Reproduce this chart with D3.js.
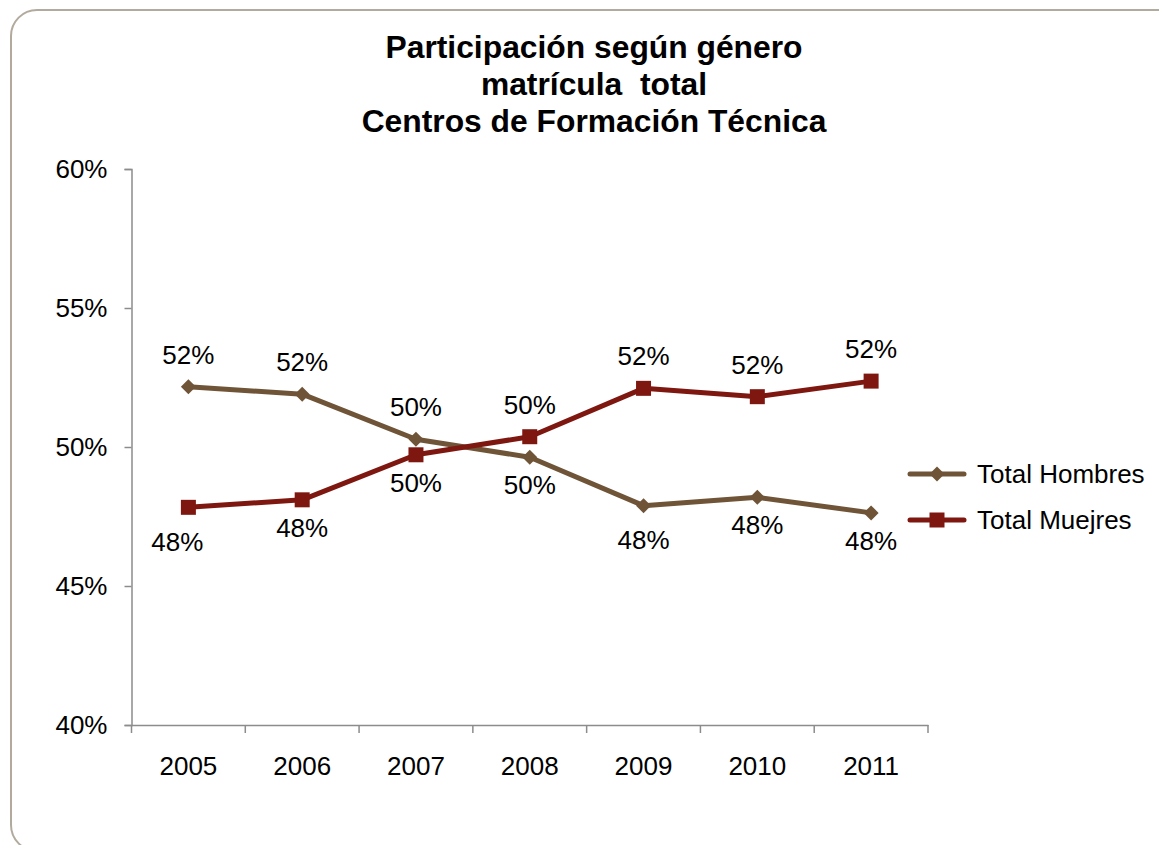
<!DOCTYPE html>
<html>
<head>
<meta charset="utf-8">
<script src="https://cdn.jsdelivr.net/npm/d3@7"></script>
<style>
  html, body { margin: 0; padding: 0; background: #fff; }
  svg { display: block; font-family: Arial, "Liberation Sans", sans-serif; }
</style>
</head>
<body>
<svg id="chart" width="1159" height="845"></svg>
<script>
const years = ["2005", "2006", "2007", "2008", "2009", "2010", "2011"];
const hombres = [52.17, 51.90, 50.28, 49.63, 47.89, 48.19, 47.63];
const mujeres = [47.83, 48.10, 49.72, 50.37, 52.11, 51.81, 52.37];
const seriesNames = ["Total Hombres", "Total Muejres"];
const yTicks = [40, 45, 50, 55, 60];
const titleLines = ["Participación según género", "matrícula  total", "Centros de Formación Técnica"];

const colors = ["#6f5437", "#7e1710"];
const svg = d3.select("#chart");
const FS = 26;

// frame
svg.append("rect")
  .attr("x", 11).attr("y", 10)
  .attr("width", 1180).attr("height", 841)
  .attr("rx", 26).attr("ry", 26)
  .attr("fill", "#fff")
  .attr("stroke", "#b3aa9e")
  .attr("stroke-width", 2);

// title
svg.append("g").selectAll("text").data(titleLines).join("text")
  .attr("x", 594)
  .attr("y", (d, i) => 58 + i * 37)
  .attr("text-anchor", "middle")
  .attr("font-size", 31.8)
  .attr("font-weight", "bold")
  .attr("fill", "#000")
  .style("white-space", "pre")
  .text(d => d);

const x = d3.scaleBand().domain(years).range([131.5, 928]).padding(0);
const y = d3.scaleLinear().domain([40, 60]).range([725, 169]);
const cx = d => x(d) + x.bandwidth() / 2;

const axisColor = "#8c8c8c";

// y axis
const yAxis = svg.append("g")
  .attr("transform", "translate(131.5,0)")
  .call(d3.axisLeft(y).tickValues(yTicks).tickSize(7).tickPadding(17).tickFormat(d => d + "%"));
yAxis.selectAll("path, line").attr("stroke", axisColor).attr("stroke-width", 1.5);
yAxis.selectAll("text").attr("font-size", FS).attr("fill", "#000").attr("font-family", "Arial, 'Liberation Sans', sans-serif");

// x axis
const xAxis = svg.append("g")
  .attr("transform", "translate(0,725)")
  .call(d3.axisBottom(x).tickSizeInner(0).tickSizeOuter(0).tickPadding(32));
xAxis.select("path").attr("stroke", axisColor).attr("stroke-width", 1.5);
xAxis.selectAll("text").attr("font-size", FS).attr("fill", "#000").attr("font-family", "Arial, 'Liberation Sans', sans-serif");
const boundaries = years.map(d => x(d)).concat([x(years[years.length - 1]) + x.bandwidth()]);
xAxis.selectAll("line.bnd").data(boundaries).join("line")
  .attr("class", "bnd")
  .attr("x1", d => d).attr("x2", d => d)
  .attr("y1", 0).attr("y2", 8)
  .attr("stroke", axisColor).attr("stroke-width", 1.5);

const line = d3.line().x((d, i) => cx(years[i])).y(d => y(d));
const allSeries = [hombres, mujeres];

function diamondPath(r) { return `M0,${-r}L${r},0L0,${r}L${-r},0Z`; }
function squarePath(s) { return `M${-s},${-s}H${s}V${s}H${-s}Z`; }
const markerPaths = [diamondPath(7.5), squarePath(7.5)];

allSeries.forEach((vals, si) => {
  svg.append("path")
    .datum(vals)
    .attr("d", line)
    .attr("fill", "none")
    .attr("stroke", colors[si])
    .attr("stroke-width", 5)
    .attr("stroke-linejoin", "round");
  svg.append("g").selectAll("path").data(vals).join("path")
    .attr("transform", (d, i) => `translate(${cx(years[i])},${y(d)})`)
    .attr("d", markerPaths[si])
    .attr("fill", colors[si]);
});

// data labels
allSeries.forEach((vals, si) => {
  const other = allSeries[1 - si];
  svg.append("g").selectAll("text").data(vals).join("text")
    .attr("x", (d, i) => cx(years[i]) + (si === 1 && i === 0 ? -11 : 0))
    .attr("y", (d, i) => {
      const above = d >= other[i];
      let off = above ? -32 : 28;
      if (si === 1 && i === 0) off = 35;
      if (si === 0 && i === 4) off = 34;
      return y(d) + off;
    })
    .attr("text-anchor", "middle")
    .attr("dominant-baseline", "central")
    .attr("font-size", FS)
    .attr("fill", "#000")
    .text(d => Math.round(d) + "%");
});

// legend
const legend = svg.append("g");
seriesNames.forEach((name, si) => {
  const ly = 474 + si * 46;
  legend.append("line")
    .attr("x1", 910).attr("x2", 964).attr("y1", ly).attr("y2", ly)
    .attr("stroke", colors[si]).attr("stroke-width", 5).attr("stroke-linecap", "round");
  legend.append("path")
    .attr("transform", `translate(937,${ly})`)
    .attr("d", markerPaths[si])
    .attr("fill", colors[si]);
  legend.append("text")
    .attr("x", 977).attr("y", ly)
    .attr("dominant-baseline", "central")
    .attr("font-size", FS)
    .attr("fill", "#000")
    .text(name);
});
</script>
</body>
</html>
